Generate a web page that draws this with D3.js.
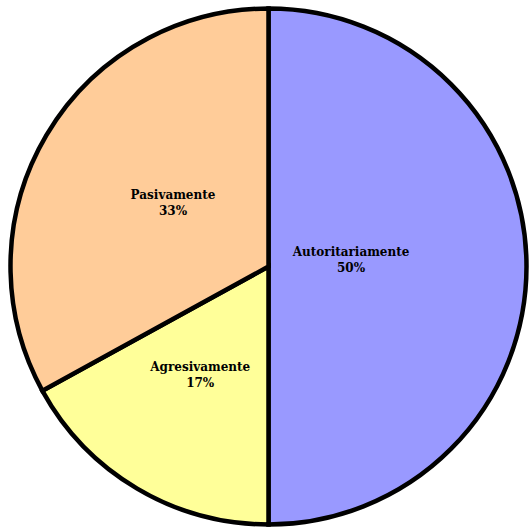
<!DOCTYPE html>
<html lang="es">
<head>
<meta charset="UTF-8">
<title>Pie chart</title>
<script src="https://d3js.org/d3.v7.min.js"></script>
<style>
  body { margin: 0; background: #fff; }
</style>
</head>
<body>
<div id="chart"></div>
<script>
// data
var categories = ["Autoritariamente", "Agresivamente", "Pasivamente"];
var values = [50, 17, 33];
var colors = ["#9999FF", "#FFFF99", "#FFCC99"];
// how far out each label sits, as a fraction of the radius
var labelRadius = [0.32, 0.52, 0.43];

var width = 530, height = 531;
var cx = 268.5, cy = 266.5, r = 258;

var svg = d3.select("#chart")
    .append("svg")
    .attr("width", width)
    .attr("height", height)
    .append("g")
    .attr("transform", "translate(" + cx + "," + cy + ")");

var data = categories.map(function(c, i) { return {name: c, value: values[i], color: colors[i], lr: labelRadius[i]}; });

var pie = d3.pie()
    .sort(null)
    .value(function(d) { return d.value; });

var arc = d3.arc().innerRadius(0).outerRadius(r);

var slices = svg.selectAll("g.slice")
    .data(pie(data))
    .enter().append("g")
    .attr("class", "slice");

slices.append("path")
    .attr("d", arc)
    .attr("fill", function(d) { return d.data.color; })
    .attr("stroke", "#000")
    .attr("stroke-width", 4.5)
    .attr("stroke-linejoin", "miter");

// labels
var total = d3.sum(values);
slices.append("text")
    .attr("transform", function(d) {
        var a = d3.arc().innerRadius(0).outerRadius(r * d.data.lr * 2);
        var c = a.centroid(d);
        return "translate(" + c[0] + "," + c[1] + ")";
    })
    .attr("text-anchor", "middle")
    .style("font-family", "'DejaVu Serif', serif")
    .style("font-weight", "bold")
    .style("font-size", "12px")
    .style("fill", "#000")
    .each(function(d) {
        var t = d3.select(this);
        t.append("tspan").attr("x", 0).attr("y", -11).text(d.data.name);
        t.append("tspan").attr("x", 0).attr("y", 5).text(Math.round(d.data.value / total * 100) + "%");
    });
</script>
</body>
</html>
